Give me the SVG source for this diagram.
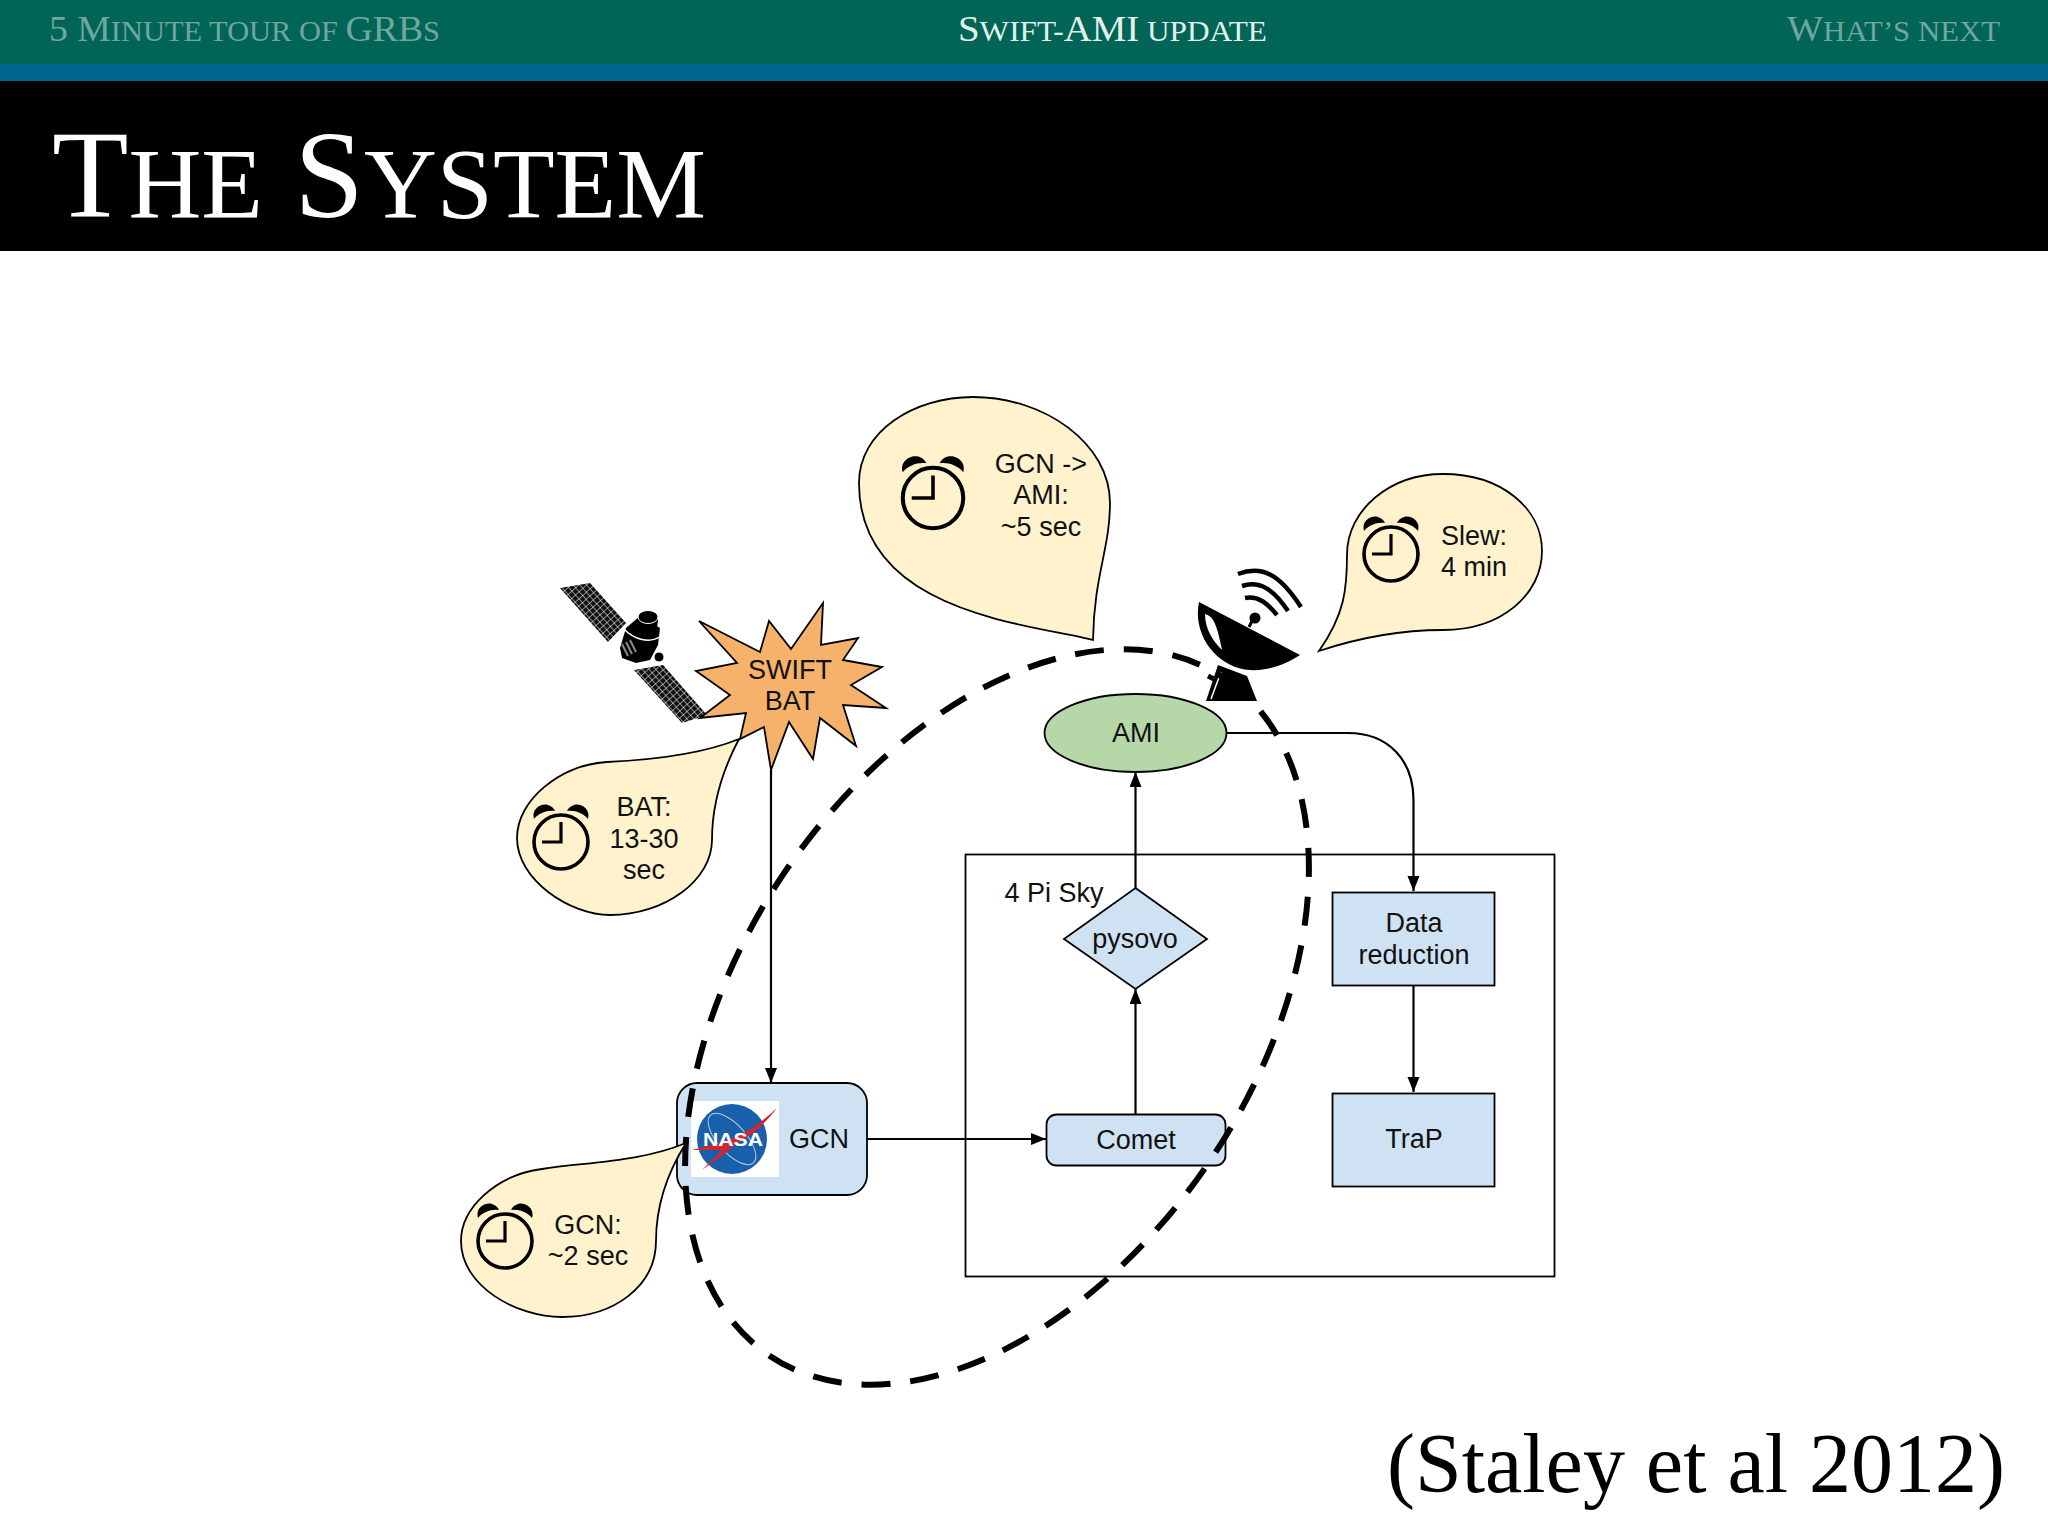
<svg xmlns="http://www.w3.org/2000/svg" width="2048" height="1536" viewBox="0 0 2048 1536">
<style>
.s{font-family:"Liberation Serif","DejaVu Serif",serif}
.t{font-family:"Liberation Sans",Arial,sans-serif;font-size:27px;fill:#111;text-anchor:middle}
.b{fill:#fff2cc;stroke:#000;stroke-width:1.8}
.n{fill:#cfe2f3;stroke:#000;stroke-width:1.8}
.c{fill:none;stroke:#000;stroke-width:2.2}
</style>
<defs>
<marker id="arr" markerUnits="userSpaceOnUse" markerWidth="15" markerHeight="13" refX="15" refY="6" orient="auto"><path d="M0,0L15,6L0,12Z" fill="#000"/></marker>
<pattern id="grid" width="5.2" height="5" patternUnits="userSpaceOnUse" patternTransform="rotate(48)"><rect width="5.2" height="5" fill="#111"/><path d="M0,0H5.2M0,0V5" stroke="#fff" stroke-width="1"/></pattern>
<g id="clock"><circle r="27" fill="none" stroke="#000" stroke-width="3.6"/><path d="M0,-20V0H-19" fill="none" stroke="#000" stroke-width="3.2"/><path d="M-27,-23C-30,-33-20,-39-13,-37C-10,-36-7,-34-6,-31C-14,-32-22,-29-27,-23Z M27,-23C30,-33 20,-39 13,-37C10,-36 7,-34 6,-31C14,-32 22,-29 27,-23Z" fill="#000"/></g>
</defs>
<rect width="2048" height="1536" fill="#fff"/>
<g id="header">
<rect width="2048" height="64" fill="#006557"/>
<rect y="64" width="2048" height="17" fill="#00658c"/>
<rect y="81" width="2048" height="170" fill="#000"/>
<text class="s" x="49" y="41" font-size="36" fill="#6fa79d" textLength="391" lengthAdjust="spacingAndGlyphs">5 M<tspan font-size="29">INUTE TOUR OF </tspan>GRB<tspan font-size="29">S</tspan></text>
<text class="s" x="958" y="41" font-size="36" fill="#e4f0ec" textLength="309" lengthAdjust="spacingAndGlyphs">S<tspan font-size="29">WIFT-</tspan>AMI<tspan font-size="29"> UPDATE</tspan></text>
<text class="s" x="1787" y="41" font-size="36" fill="#6fa79d" textLength="213" lengthAdjust="spacingAndGlyphs">W<tspan font-size="29">HAT’S NEXT</tspan></text>
<text class="s" x="52" y="217" font-size="124" fill="#fff" textLength="654" lengthAdjust="spacingAndGlyphs">T<tspan font-size="100">HE</tspan> S<tspan font-size="100">YSTEM</tspan></text>
</g>
<g id="box-4pi"><rect x="965.5" y="854.5" width="589" height="422" fill="none" stroke="#000" stroke-width="1.8"/><text class="t" x="1054" y="902">4 Pi Sky</text></g>
<g id="connectors">
<path class="c" d="M771,770V1083" marker-end="url(#arr)"/>
<path class="c" d="M867,1139H1046" marker-end="url(#arr)"/>
<path class="c" d="M1135.5,1114V989" marker-end="url(#arr)"/>
<path class="c" d="M1135.5,888V772" marker-end="url(#arr)"/>
<path class="c" d="M1226,733H1348C1388,733 1413.5,760 1413.5,800V891" marker-end="url(#arr)"/>
<path class="c" d="M1413.5,986V1092" marker-end="url(#arr)"/>
</g>
<g id="satellite">
<path d="M560,588L590,583L626,623L608,642Z" fill="url(#grid)"/>
<path d="M634,670L663,665L707,715L682,723Z" fill="url(#grid)"/>
<path d="M620,648L626,628L640,616L660,628L658,645L650,660L636,663L622,658Z" fill="#000"/>
<path d="M636,628L640,618L652,612L658,620L656,636Z" fill="#000"/>
<ellipse cx="648" cy="617" rx="10" ry="6.5" fill="#000" stroke="#fff" stroke-width="1"/>
<circle cx="659" cy="657" r="5" fill="#000" stroke="#fff" stroke-width="1"/>
<path d="M623,628C634,640 650,644 661,636" fill="none" stroke="#fff" stroke-width="1.5"/>
<path d="M622,644L628,656M626,642L632,654M630,640L636,652" stroke="#888" stroke-width="2"/>
</g>
<g id="swift-bat"><path d="M823,603L821,645L858,638L843,660L882,667L851,685L886,708L843,705L856,746L820,718L813,759L789,722L771,770L764,727L740,739L746,713L700,718L730,695L696,671L737,663L699,621L760,652L769,621L791,649Z" fill="#f6b26b" stroke="#000" stroke-width="1.8"/><text class="t" x="790" y="679">SWIFT</text><text class="t" x="790" y="710">BAT</text></g>
<g id="bubble-bat"><path class="b" d="M739,739C700,755 650,760 607,762C560,765 517,800 517,838C517,880 570,915 610,915C665,915 712,880 712,840C712,810 720,775 739,739Z"/><use href="#clock" x="561" y="842"/><text class="t" x="644" y="816">BAT:</text><text class="t" x="644" y="848">13-30</text><text class="t" x="644" y="879">sec</text></g>
<g id="bubble-ami"><path class="b" d="M1093,640C1032,624 859,614 859,483C859,431 914,397 973,397C1045,397 1110,444 1110,503C1110,549 1094,575 1093,640Z"/><use href="#clock" transform="translate(933 498) scale(1.12)"/><text class="t" x="1041" y="473">GCN -&gt;</text><text class="t" x="1041" y="504">AMI:</text><text class="t" x="1041" y="536">~5 sec</text></g>
<g id="bubble-slew"><path class="b" d="M1319,651C1345,614 1347,588 1347,555C1347,509 1391,474 1443,474C1502,474 1542,509 1542,551C1542,594 1502,630 1443,630C1398,630 1358,638 1319,651Z"/><use href="#clock" x="1391" y="554"/><text class="t" x="1474" y="545">Slew:</text><text class="t" x="1474" y="576">4 min</text></g>
<g id="dish">
<path d="M1199,602L1300,655C1280,668 1262,671 1250,670C1218,668 1192,636 1199,602Z" fill="#000"/>
<path d="M1205,614C1212,616 1216,620 1222,650C1212,640 1205,628 1205,614Z" fill="#fff"/>
<path d="M1249,627L1254,617" stroke="#000" stroke-width="3"/><circle cx="1255" cy="618" r="5.5" fill="#000"/>
<path d="M1238,574C1265,564 1282,578 1301,607M1242,586C1260,580 1274,590 1288,611M1245,598C1258,595 1268,604 1277,615" fill="none" stroke="#000" stroke-width="4.5"/>
<path d="M1218,665L1247,676L1257,701L1206,701Z" fill="#000"/>
<path d="M1208,676L1224,684" stroke="#000" stroke-width="5"/>
<path d="M1221,672L1211,699" stroke="#fff" stroke-width="1.5"/>
</g>
<g id="ami"><ellipse cx="1135.5" cy="733" rx="91" ry="39" fill="#b6d7a8" stroke="#000" stroke-width="1.8"/><text class="t" x="1136" y="742">AMI</text></g>
<g id="pysovo"><path class="n" d="M1135.5,888L1207,939L1135.5,989L1064,939Z"/><text class="t" x="1135" y="948">pysovo</text></g>
<g id="data-reduction"><rect class="n" x="1332.5" y="892.5" width="162" height="93"/><text class="t" x="1414" y="932">Data</text><text class="t" x="1414" y="964">reduction</text></g>
<g id="comet"><rect class="n" x="1046.5" y="1114.5" width="179" height="51" rx="10"/><text class="t" x="1136" y="1149">Comet</text></g>
<g id="trap"><rect class="n" x="1332.5" y="1093.5" width="162" height="93"/><text class="t" x="1414" y="1148">TraP</text></g>
<g id="gcn">
<rect class="n" x="677" y="1083" width="190" height="112" rx="20" stroke-width="2"/>
<rect x="691" y="1101" width="88" height="76" fill="#fff"/>
<circle cx="732" cy="1139" r="35" fill="#1860ac"/>
<ellipse cx="732" cy="1139" rx="14" ry="32" fill="none" stroke="#bcd" stroke-width="1" transform="rotate(-42 732 1139)"/>
<path d="M777,1108C762,1128 744,1142 722,1150L692,1150L720,1143C745,1135 762,1122 777,1108ZM722,1150L702,1170L735,1146Z" fill="#d8242f"/>
<text x="733" y="1146" font-family="Liberation Sans, Arial, sans-serif" font-size="19" font-weight="700" fill="#fff" text-anchor="middle" textLength="60" lengthAdjust="spacingAndGlyphs">NASA</text>
<text class="t" x="819" y="1148">GCN</text>
</g>
<g id="dashed-region"><ellipse cx="997" cy="1017" rx="408" ry="257" transform="rotate(-56.1 997 1017)" fill="none" stroke="#000" stroke-width="6" stroke-dasharray="29 20"/></g>
<g id="bubble-gcn"><path class="b" d="M686,1143C640,1162 588,1162 542,1169C496,1175 461,1208 461,1241C461,1286 516,1317 562,1317C614,1317 656,1286 656,1241C656,1208 666,1175 686,1143Z"/><use href="#clock" x="505" y="1241"/><text class="t" x="588" y="1234">GCN:</text><text class="t" x="588" y="1265">~2 sec</text></g>
<text class="s" x="1387" y="1492" font-size="84" fill="#000" textLength="618" lengthAdjust="spacingAndGlyphs">(Staley et al 2012)</text>
</svg>
